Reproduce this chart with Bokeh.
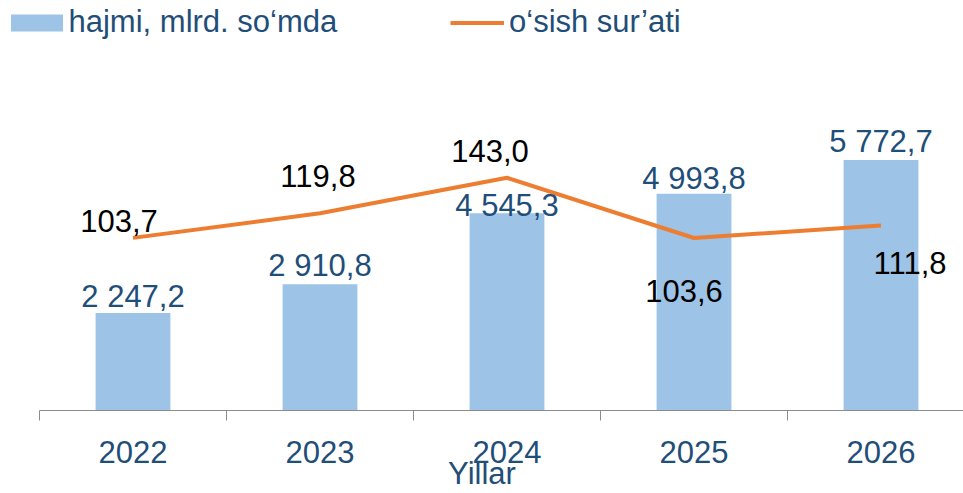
from bokeh.plotting import figure
from bokeh.models import (ColumnDataSource, Range1d, LinearAxis, FixedTicker,
                          Legend, LegendItem)
from bokeh.core.properties import value
from bokeh.embed import file_html
from bokeh.resources import INLINE

# ---- data ----
years = ["2022", "2023", "2024", "2025", "2026"]
volume = [2247.2, 2910.8, 4545.3, 4993.8, 5772.7]      # hajmi, mlrd. so'mda
growth = [103.7, 119.8, 143.0, 103.6, 111.8]           # o'sish sur'ati
legend_bar = "hajmi, mlrd. so‘mda"
legend_line = "o‘sish sur’ati"
axis_title = "Yillar"

def fmt(v):
    return f"{v:,.1f}".replace(",", " ").replace(".", ",")

# label placement (screen px)
bar_lbl_dy = [-16, -19, -8, -15, -18]
line_lbl_dx = [-14, -2, -17, -10, 29]
line_lbl_dy = [-17, -37, -27, 53, 38]

FONT = "Liberation Sans"
BLUE_TXT = "#1F4E79"
BAR = "#9DC3E6"
ORANGE = "#ED7D31"

CAT_PX = 187.0
LEFT_PX = 39.0
W, H = 963, 493
FRAME_H = 411

xc = [i + 0.5 for i in range(len(years))]

bar_src = ColumnDataSource(dict(x=xc, top=volume, lbl=[fmt(v) for v in volume],
                                dy=bar_lbl_dy))
line_src = ColumnDataSource(dict(x=xc, y=growth, lbl=[fmt(v) for v in growth],
                                 dx=line_lbl_dx, dy=line_lbl_dy))

p = figure(width=W, height=H, output_backend="svg", toolbar_location=None,
           x_axis_location=None, y_axis_location=None,
           x_range=Range1d(-LEFT_PX / CAT_PX, (W - LEFT_PX) / CAT_PX),
           y_range=Range1d(0, 9448),
           min_border_left=0, min_border_right=0, min_border_top=0,
           min_border_bottom=H - FRAME_H)
p.extra_y_ranges = {"g": Range1d(-9.1, 258.8)}
p.outline_line_color = None
for g in p.grid:
    g.visible = False
p.background_fill_color = "white"
p.border_fill_color = "white"

bars = p.vbar(x="x", top="top", width=0.4, bottom=0, source=bar_src,
              fill_color=BAR, line_color=None)
line = p.line(x="x", y="y", source=line_src, y_range_name="g",
              line_color=ORANGE, line_width=4, line_join="round")

p.text(x="x", y="top", text="lbl", source=bar_src, y_offset="dy",
       text_align="center", text_baseline="alphabetic",
       text_font=value(FONT), text_font_size="31px", text_color=BLUE_TXT)
p.text(x="x", y="y", text="lbl", source=line_src, y_range_name="g",
       x_offset="dx", y_offset="dy",
       text_align="center", text_baseline="alphabetic",
       text_font=value(FONT), text_font_size="31px", text_color="black")

ax = LinearAxis(ticker=FixedTicker(ticks=xc, minor_ticks=list(range(len(years) + 1))),
                major_label_overrides={x: y for x, y in zip(xc, years)},
                bounds=(0, len(years)))
ax.axis_line_color = "#8C8C8C"
ax.axis_line_width = 1
ax.major_tick_out = 0
ax.major_tick_in = 0
ax.minor_tick_out = 10
ax.minor_tick_in = 0
ax.minor_tick_line_color = "#8C8C8C"
ax.major_label_standoff = 20
ax.major_label_text_font = FONT
ax.major_label_text_font_size = "31px"
ax.major_label_text_color = BLUE_TXT
ax.axis_label = axis_title
ax.axis_label_text_font = FONT
ax.axis_label_text_font_size = "31px"
ax.axis_label_text_font_style = "normal"
ax.axis_label_text_color = BLUE_TXT
ax.axis_label_standoff = -10
p.add_layout(ax, "below")

common = dict(orientation="horizontal", padding=0, margin=0, border_line_color=None,
              background_fill_alpha=0, label_text_font=FONT,
              label_text_font_size="31px", label_text_color=BLUE_TXT)
leg1 = Legend(items=[LegendItem(label=legend_bar, renderers=[bars])],
              location=(3.5, 370), glyph_width=65, glyph_height=21,
              label_standoff=0, **common)
leg2 = Legend(items=[LegendItem(label=legend_line, renderers=[line])],
              location=(450, 370), glyph_width=54, glyph_height=21,
              label_standoff=5, **common)
p.add_layout(leg1, "center")
p.add_layout(leg2, "center")

open("out.html", "w").write(file_html(p, INLINE))
